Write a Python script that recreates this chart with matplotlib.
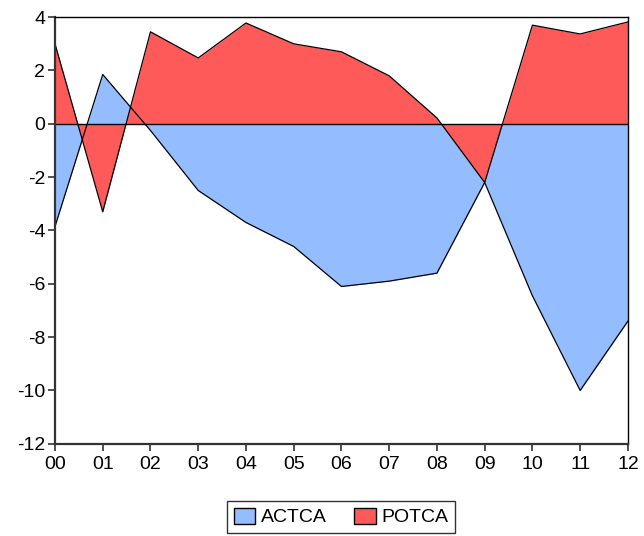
import numpy as np
import matplotlib
matplotlib.use("Agg")
import matplotlib.pyplot as plt
from matplotlib.patches import Patch

plt.rcParams['font.family'] = ['Liberation Sans', 'DejaVu Sans']
plt.rcParams['axes.unicode_minus'] = False

# data
years = ['00', '01', '02', '03', '04', '05', '06', '07', '08', '09', '10', '11', '12']
actca = [-3.85, 1.85, -0.25, -2.5, -3.7, -4.6, -6.1, -5.9, -5.6, -2.2, -6.45, -10.0, -7.4]
potca = [3.0, -3.3, 3.45, 2.47, 3.78, 3.0, 2.7, 1.8, 0.22, -2.2, 3.7, 3.37, 3.82]

blue = '#94BDFF'
red = '#FF5A5A'

fig = plt.figure(figsize=(6.44, 5.36), dpi=100)
ax = fig.add_axes([0.0854, 0.172, 0.8896, 0.796])

x = np.arange(len(years))

# blue area first, red on top
ax.fill_between(x, 0, actca, color=blue, linewidth=0)
ax.plot(x, actca, color='black', linewidth=0.9)
ax.fill_between(x, 0, potca, color=red, linewidth=0)
ax.plot(x, potca, color='black', linewidth=0.9)

# zero line
ax.axhline(0, color='black', linewidth=1.0)

ax.set_xlim(0, 12)
ax.set_ylim(-12, 4)
ax.set_xticks(x)
ax.set_xticklabels(years)
ax.set_yticks(np.arange(-12, 5, 2))

ax.tick_params(axis='both', direction='out', length=5, width=1.2,
               labelsize=14, colors='#333333', labelcolor='black')
ax.tick_params(axis='x', pad=4)
ax.tick_params(axis='y', pad=2)

for side in ['left', 'bottom']:
    ax.spines[side].set_linewidth(1.6)
    ax.spines[side].set_color('#333333')
for side in ['top', 'right']:
    ax.spines[side].set_linewidth(1.0)
    ax.spines[side].set_color('black')

handles = [Patch(facecolor=blue, edgecolor='black', label='ACTCA'),
           Patch(facecolor=red, edgecolor='black', label='POTCA')]
fig.legend(handles=handles, loc='center', bbox_to_anchor=(0.530, 0.035),
           ncol=2, fontsize=14, frameon=True, fancybox=False, edgecolor='black',
           handlelength=1.1, handleheight=0.85, handletextpad=0.3, columnspacing=1.4,
           borderpad=0.35)

fig.savefig('out.png', dpi=100)
